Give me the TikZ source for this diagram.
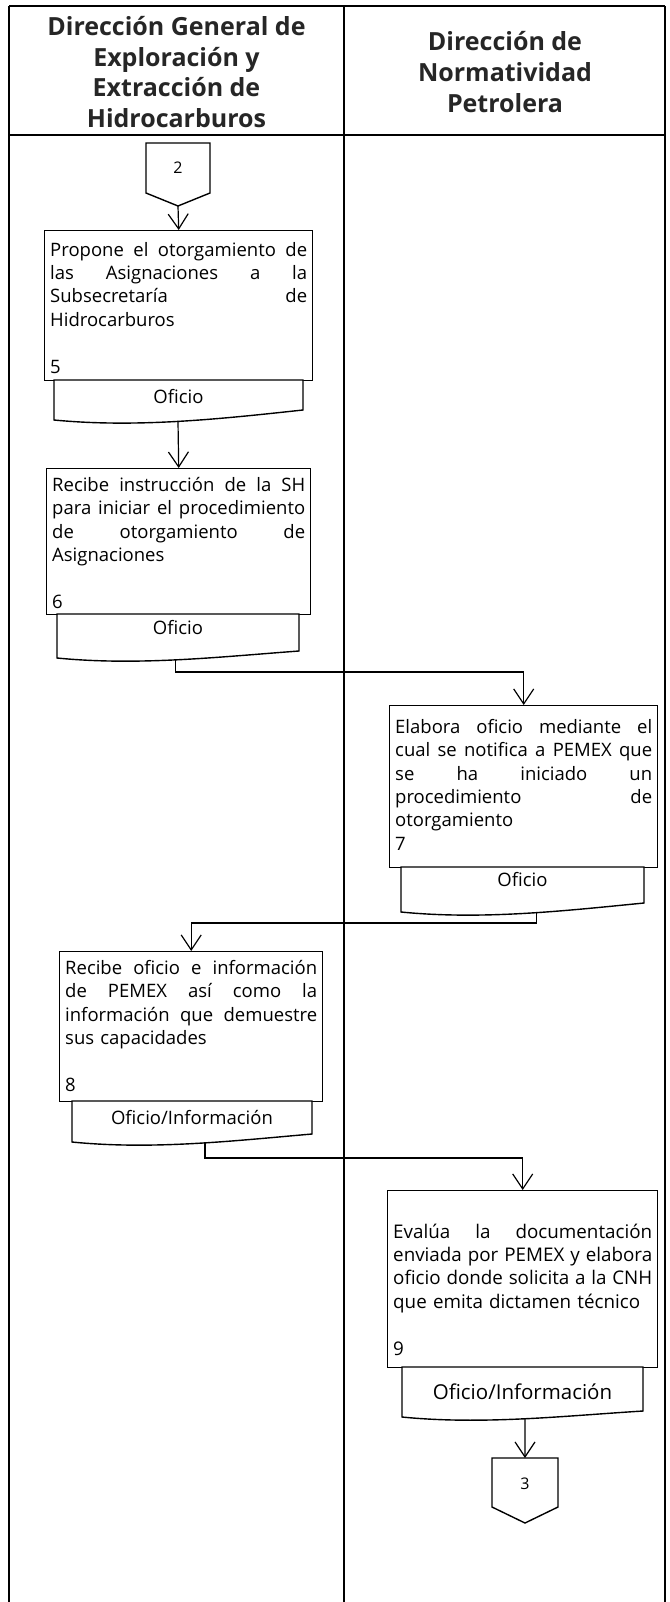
\documentclass[tikz,border=0pt]{standalone}
\usepackage{fontspec}
\setmainfont{Open Sans}
\usetikzlibrary{arrows.meta,calc}
\newcommand\J[2]{\leavevmode\hbox to #1{\spaceskip=0pt plus 1fil\relax #2}}
\newcommand\topstrut{\rule{0pt}{19pt}}
% #1 outlet name, #2 x0, #3 x1, #4 top, #5 yL, #6 yR, #7 pos
\newcommand\docpath[7]{%
  \draw[docshape] (#2,#4) -- (#2,#5) .. controls ({#2+(#3-#2)/3},{#5+8}) and ({#2+2*(#3-#2)/3},{#5-1}) .. (#3,#6) coordinate[pos=#7] (#1) -- (#3,#4) -- cycle;}
\tikzset{
  lane/.style={line width=1.3pt},
  box/.style={draw, line width=1.4pt, inner sep=0pt, anchor=north west},
  txt/.style={inner sep=0pt, anchor=north west, align=left, font=\fontsize{18.5}{23.4}\selectfont},
  doctext/.style={inner sep=0pt, anchor=base, font=\fontsize{18.5}{22}\selectfont},
  docshape/.style={draw, line width=1.4pt, fill=white},
  offpage/.style={draw, line width=1.4pt},
  arr/.style={line width=1.2pt, -{Straight Barb[length=15pt,width=20pt]}},
  hdr/.style={inner sep=0pt, align=center, font=\fontsize{25}{30.7}\selectfont\bfseries, text=black!85},
}
\begin{document}
\begin{tikzpicture}[x=1pt,y=-1pt]
\fill[white] (0,0) rectangle (669,1602);
\useasboundingbox (0,0) rectangle (669,1602);
% swimlanes
\draw[lane] (9,6) -- (665,6);
\draw[lane] (9,135) -- (665,135);
\draw[lane] (9,6) -- (9,1602);
\draw[lane] (344,6) -- (344,1602);
\draw[lane] (665,6) -- (665,1602);
\node[hdr] (h1) at (176.5,72) {Dirección General de\\Exploración y\\Extracción de\\Hidrocarburos};
\node[hdr] (h2) at (505,72) {Dirección de\\Normatividad\\Petrolera};

% off-page connector 2
\draw[offpage] (146,143) -- (210,143) -- (210,193) -- (178,206) -- (146,193) -- cycle;
\coordinate (c2tip) at (178,206);
\node[inner sep=0pt, anchor=base, font=\fontsize{16}{18}\selectfont] (n2) at (178,174) {2};

% box 5
\node[box, minimum width=268pt, minimum height=150pt] (b5) at (44,230) {};
\node[txt, text width=257pt] (t5) at (50,237) {\topstrut\J{257pt}{Propone el otorgamiento de}\\\J{257pt}{las Asignaciones a la}\\\J{257pt}{Subsecretaría de}\\Hidrocarburos\\\mbox{}\\5};
\docpath{d5o}{54}{303}{380}{420}{410}{0.498}
\node[doctext] (o5) at (178.5,403) {Oficio};

% box 6
\node[box, minimum width=264pt, minimum height=146pt] (b6) at (46,468) {};
\node[txt, text width=253pt] (t6) at (52,472) {\topstrut\J{253pt}{Recibe instrucción de la SH}\\\J{253pt}{para iniciar el procedimiento}\\\J{253pt}{de otorgamiento de}\\Asignaciones\\\mbox{}\\6};
\docpath{d6o}{57}{299}{614}{658}{651}{0.49}
\node[doctext] (o6) at (178,634) {Oficio};

% box 7
\node[box, minimum width=268pt, minimum height=162pt] (b7) at (389,705) {};
\node[txt, text width=257pt] (t7) at (395,714) {\topstrut\J{257pt}{Elabora oficio mediante el}\\\J{257pt}{cual se notifica a PEMEX que}\\\J{257pt}{se ha iniciado un}\\\J{257pt}{procedimiento de}\\otorgamiento\\7};
\docpath{d7o}{401}{644}{867}{912}{903}{0.556}
\node[doctext] (o7) at (522.5,886) {Oficio};

% box 8
\node[box, minimum width=263pt, minimum height=150pt] (b8) at (59,951) {};
\node[txt, text width=252pt] (t8) at (65,955) {\topstrut\J{252pt}{Recibe oficio e información}\\\J{252pt}{de PEMEX así como la}\\\J{252pt}{información que demuestre}\\sus capacidades\\\mbox{}\\8};
\docpath{d8o}{72}{312}{1101}{1142}{1134}{0.554}
\node[doctext] (o8) at (192,1124) {Oficio/Información};

% box 9
\node[box, minimum width=270pt, minimum height=177pt] (b9) at (387,1190) {};
\node[txt, text width=259pt, font=\fontsize{18.8}{23.4}\selectfont] (t9) at (393,1195.5) {\topstrut\\\J{259pt}{Evalúa la documentación}\\\J{259pt}{enviada por PEMEX y elabora}\\\J{259pt}{oficio donde solicita a la CNH}\\que emita dictamen técnico\\\mbox{}\\9};
\docpath{d9o}{402}{643}{1367}{1417}{1411}{0.5104}
\node[doctext, font=\fontsize{20.5}{24}\selectfont] (o9) at (522.5,1399) {Oficio/Información};

% off-page connector 3
\draw[offpage] (492,1458) -- (558,1458) -- (558,1507) -- (525,1523) -- (492,1507) -- cycle;
\coordinate (c3top) at (525,1458);
\node[inner sep=0pt, anchor=base, font=\fontsize{16}{18}\selectfont] (n3) at (525,1489) {3};

% connectors
\draw[arr] (c2tip) -- (b5.north);
\draw[arr] (d5o) -- (b6.north);
\draw[arr] (d6o) |- ([yshift=33pt]b7.north) -- (b7.north);
\draw[arr] (d7o) |- ([yshift=28pt]b8.north) -- (b8.north);
\draw[arr] (d8o) |- ([yshift=32pt]b9.north) -- (b9.north);
\draw[arr] (d9o) -- (c3top);
\end{tikzpicture}
\end{document}
